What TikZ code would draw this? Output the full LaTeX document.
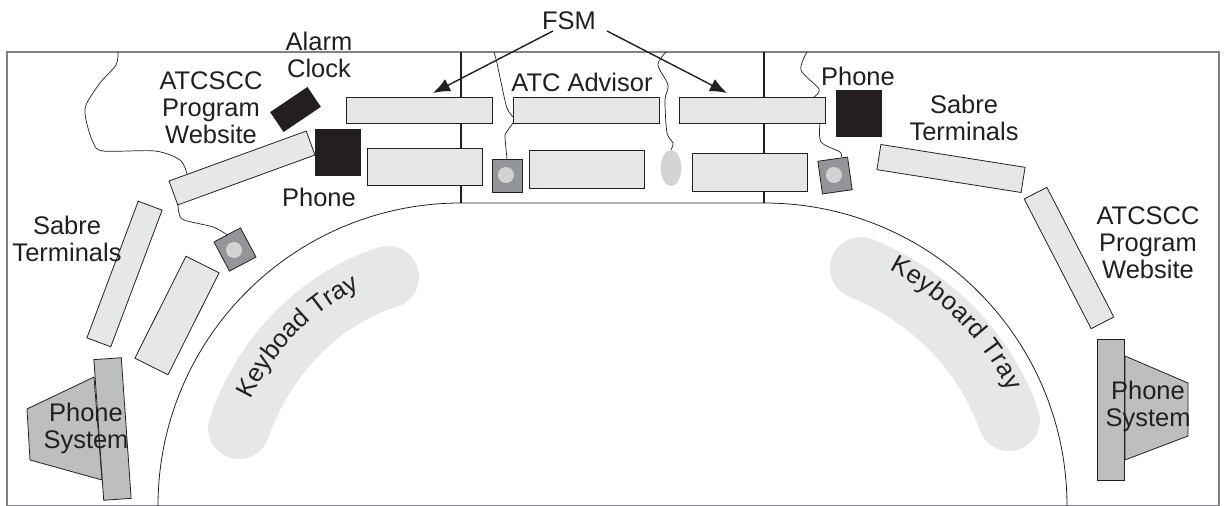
\documentclass[tikz,border=0pt]{standalone}
\usepackage{fontspec}
\setmainfont{Liberation Sans}
\usetikzlibrary{arrows.meta,shapes.geometric,decorations.text}
\definecolor{ink}{HTML}{231F20}
\definecolor{panelgray}{HTML}{E6E7E8}
\definecolor{bargray}{HTML}{BCBEC0}
\definecolor{hubgray}{HTML}{939598}
\definecolor{lightgray}{HTML}{D1D3D4}
\definecolor{framegray}{HTML}{808285}
\newcommand{\labelfont}{\fontsize{14.5}{15.4}\selectfont}

\begin{document}
\begin{tikzpicture}[
  x=0.02cm, y=-0.02cm,
  panel/.style={rectangle, draw=ink, fill=panelgray, line width=0.45pt,
                inner sep=0pt, outer sep=0pt},
  fsmbox/.style={panel, minimum width=2.92cm, minimum height=0.52cm},
  lowbox/.style={panel, minimum width=2.3cm, minimum height=0.75cm},
  termbox/.style={panel, minimum width=2.92cm, minimum height=0.51cm},
  bar/.style={panel, fill=bargray, minimum width=2.82cm, minimum height=0.55cm},
  horn/.style={draw=ink, fill=bargray, line width=0.45pt},
  blackbox/.style={rectangle, fill=ink, inner sep=0pt, outer sep=0pt},
  hub/.style={panel, fill=hubgray, minimum width=0.6cm, minimum height=0.66cm},
  hole/.style={circle, fill=lightgray, inner sep=0pt, minimum size=0.32cm},
  wire/.style={draw=ink, line width=0.4pt},
  wall/.style={draw=ink, line width=0.45pt},
  tray/.style={draw=panelgray, line width=1.24cm, line cap=round},
  arr/.style={-{Latex[length=0.34cm, width=0.27cm]}, draw=ink, line width=0.8pt},
  lbl/.style={align=center, font=\labelfont, text=ink, inner sep=0pt}
]
\useasboundingbox (0,0) rectangle (1225,506);

% Room outline
\draw[framegray, line width=0.8pt] (7,52) rectangle (1219,505.5);

% Desk edge
\draw[wall] (158,506) .. controls (158,338.6) and (293.6,203) .. (461,203)
  -- (764,203) .. controls (931.4,203) and (1067,338.6) .. (1067,506);
\draw[wall, line width=0.7pt] (461,52) -- (461,203);
\draw[wall, line width=0.7pt] (764,52) -- (764,203);

% Keyboard trays
\draw[tray] (239,428) .. controls (263,358) and (318,299) .. (388,277);
\draw[tray] (861,268) .. controls (929.5,296) and (984.5,350) .. (1009,420);
\path[decorate, decoration={text along path, text align=center,
    text format delimiters={|}{|}, text={|\labelfont\color{ink}|Keyboad Tray}}]
  (239,428) .. controls (263,358) and (318,299) .. (388,277);
\path[decorate, decoration={text along path, text align=center, raise=0.2cm,
    text format delimiters={|}{|}, text={|\labelfont\color{ink}|Keyboard Tray}}]
  (861,268) .. controls (929.5,296) and (984.5,350) .. (1009,420);

% Monitors on the FSM desks
\node[fsmbox] (fsmL) at (419.5,110.5) {};
\node[fsmbox] (fsmM) at (586,110.5) {};
\node[fsmbox] (fsmR) at (752.5,110.5) {};

% Lower row
\node[lowbox] (lowL) at (424.5,167) {};
\node[lowbox] (lowM) at (587,169.5) {};
\node[lowbox] (lowR) at (750,172.5) {};

% Phones, clock
\node[blackbox, minimum size=0.93cm] (phoneL) at (338,152.5) {};
\node[blackbox, minimum size=0.93cm] (phoneR) at (859,113.5) {};
\node[blackbox, minimum width=0.9cm, minimum height=0.48cm, rotate=34] (alarm) at (295.5,109.5) {};

% Left side
\node[termbox, rotate=20] (webL) at (242,168) {};
\node[termbox, rotate=69.4] (sabreLa) at (124.5,274) {};
\node[panel, minimum width=2.28cm, minimum height=0.74cm, rotate=63.4] (sabreLb) at (177,315.5) {};

% Right side
\node[termbox, rotate=-9] (sabreR) at (951,168.5) {};
\node[termbox, rotate=-62.7] (webR) at (1069,258) {};

% Phone systems
\draw[horn] (94,377) -- (27,409) -- (30,460) -- (102,480) -- cycle;
\node[bar, rotate=-86] (barL) at (112.5,429) {};
\draw[horn] (1125,356) -- (1188,383) -- (1188,436) -- (1125,460) -- cycle;
\node[bar, rotate=-90] (barR) at (1111,409.5) {};

% Hubs
\node[hub, rotate=28] (hubL) at (235,249.5) {};
\node[hole] (holeL) at (234,250) {};
\node[hub] (hubM) at (507,175.5) {};
\node[hole] (holeM) at (506,175) {};
\node[hub, rotate=8] (hubR) at (835,175.5) {};
\node[hole] (holeR) at (834,175) {};

% Mouse
\node[ellipse, fill=lightgray, inner sep=0pt, minimum width=0.41cm, minimum height=0.72cm] (mouse) at (671,168) {};

% Wires
\draw[wire] plot[smooth] coordinates {(118,52) (116,65) (100,83) (86,105) (86,120) (93,142) (103,151) (155,151) (180,160) (187,174)};
\draw[wire] plot[smooth] coordinates {(178,204) (179,213) (184,220) (213,227) (hubL.north)};
\draw[wire] plot[smooth] coordinates {(494,52) (497,63) (502,87) (507,108) (513,117)};
\draw[wire] plot[smooth, tension=0.2] coordinates {(513,123) (505,135) (hubM.north)};
\draw[wire] plot[smooth] coordinates {(666,52) (658,65) (668,85) (665,100) (667,133) (673,143) (mouse.north)};
\draw[wire] plot[smooth] coordinates {(807,52) (801,70) (819,89) (814,97)};
\draw[wire] plot[smooth] coordinates {(820,123) (821,142) (840,152) (841,157)};

% FSM pointers
\node[lbl] (fsm) at (569,21) {FSM};
\coordinate (fsmLa) at (553,31);
\coordinate (fsmLb) at (433,93);
\coordinate (fsmRa) at (607,31);
\coordinate (fsmRb) at (727,93);
\draw[arr] (fsmLa) -- (fsmLb);
\draw[arr] (fsmRa) -- (fsmRb);

% Labels
\node[lbl] (alarmtxt) at (319,54.5) {Alarm\\Clock};
\node[lbl] (webLtxt) at (211,108) {ATCSCC\\Program\\Website};
\node[lbl] (phoneLtxt) at (319,197) {Phone};
\node[lbl] (sabreLtxt) at (67,239) {Sabre\\Terminals};
\node[lbl] (sysLtxt) at (86,428) {Phone\\System};
\node[lbl] (advisor) at (582,82) {ATC Advisor};
\node[lbl] (phoneRtxt) at (858,76) {Phone};
\node[lbl] (sabreRtxt) at (964,118) {Sabre\\Terminals};
\node[lbl] (webRtxt) at (1148,243) {ATCSCC\\Program\\Website};
\node[lbl] (sysRtxt) at (1148,406) {Phone\\System};
\end{tikzpicture}
\end{document}
